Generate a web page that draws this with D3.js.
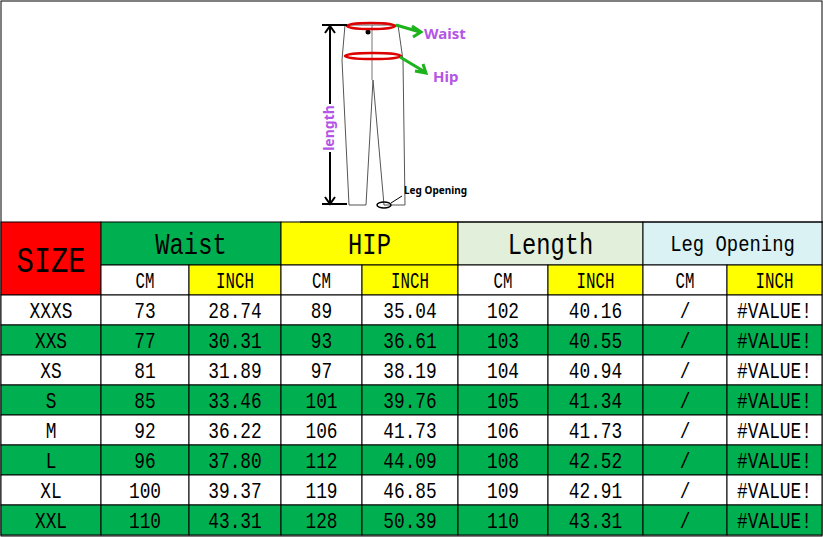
<!DOCTYPE html><html><head><meta charset="utf-8">
<script src="https://cdn.jsdelivr.net/npm/d3@7"></script>
<style>body{margin:0;background:#fff}svg{display:block}</style></head><body>
<svg id="c" width="823" height="537"></svg>
<script>
const sizes=["XXXS","XXS","XS","S","M","L","XL","XXL"];
const waistCm=[73,77,81,85,92,96,100,110];
const waistIn=["28.74","30.31","31.89","33.46","36.22","37.80","39.37","43.31"];
const hipCm=[89,93,97,101,106,112,119,128];
const hipIn=["35.04","36.61","38.19","39.76","41.73","44.09","46.85","50.39"];
const lenCm=[102,103,104,105,106,108,109,110];
const lenIn=["40.16","40.55","40.94","41.34","41.73","42.52","42.91","43.31"];
const legCm=sizes.map(()=>"/");
const legIn=sizes.map(()=>"#VALUE!");
const groups=["Waist","HIP","Length","Leg Opening"];
const groupFill=["#00B050","#FFFF00","#E2EFDA","#DAF2F4"];

const svg=d3.select("#c");
const colEdges=[1,101,189,281,362,458,548,643,727,822];
const x=i=>colEdges[i];
const rowY=d3.scaleLinear().domain([0,8]).range([295,535]);
const F="'Liberation Mono','DejaVu Sans Mono',monospace";
svg.append("rect").attr("x",1).attr("y",1).attr("width",821).attr("height",535).attr("fill","#fff").attr("stroke","#000");

function cell(x0,x1,y0,y1,fill,text,size,sx){
  svg.append("rect").attr("x",x0).attr("y",y0).attr("width",x1-x0).attr("height",y1-y0).attr("fill",fill).attr("stroke","#000").attr("stroke-width",1);
  const cx=(x0+x1)/2, cy=(y0+y1)/2;
  svg.append("text").attr("transform",`translate(${cx},${cy}) scale(${sx||0.85},1.05)`).attr("text-anchor","middle").attr("dy","0.36em")
    .attr("font-family",F).attr("font-size",size).attr("fill","#000").text(text);
}
// header
cell(x(0),x(1),222,295,"#FF0000","SIZE",36,0.8);
groups.forEach((g,i)=>{
  cell(x(1+2*i),x(3+2*i),222,265,groupFill[i],g,i===3?21:28,i===3?0.9:0.85);
  cell(x(1+2*i),x(2+2*i),265,295,"#fff","CM",21,0.75);
  cell(x(2+2*i),x(3+2*i),265,295,"#FFFF00","INCH",21,0.75);
});
const cols=[sizes,waistCm,waistIn,hipCm,hipIn,lenCm,lenIn,legCm,legIn];
sizes.forEach((s,r)=>{
  const fill=r%2?"#00B050":"#fff";
  cols.forEach((c,ci)=>cell(x(ci),x(ci+1),rowY(r),rowY(r+1),fill,c[r],21,ci===8?0.85:0.85));
});

// illustration
const g=svg.append("g");
g.append("line").attr("x1",300).attr("x2",823).attr("y1",222).attr("y2",222).attr("stroke","#000");
g.append("path").attr("d","M345,25 L398,25 L403,60 L405,205 L384,205 L373,80 L366,205 L349,205 L342,60 Z").attr("fill","#fff").attr("stroke","#555").attr("stroke-width",1);
g.append("line").attr("x1",372).attr("x2",372).attr("y1",25).attr("y2",80).attr("stroke","#777");
g.append("circle").attr("cx",368).attr("cy",32).attr("r",2.5).attr("fill","#000");
g.append("ellipse").attr("cx",371).attr("cy",26).attr("rx",24).attr("ry",3).attr("fill","none").attr("stroke","#d00").attr("stroke-width",2.5);
g.append("ellipse").attr("cx",373).attr("cy",56).attr("rx",28).attr("ry",3).attr("fill","none").attr("stroke","#d00").attr("stroke-width",2.5);
g.append("ellipse").attr("cx",384).attr("cy",205).attr("rx",7).attr("ry",3).attr("fill","none").attr("stroke","#000").attr("stroke-width",1.5);
g.append("line").attr("x1",330).attr("x2",330).attr("y1",26).attr("y2",204).attr("stroke","#000").attr("stroke-width",2);
[[322,25,347,25],[322,204,347,204]].forEach(d=>g.append("line").attr("x1",d[0]).attr("y1",d[1]).attr("x2",d[2]).attr("y2",d[3]).attr("stroke","#000").attr("stroke-width",2));
g.append("path").attr("d","M325,33 L330,26 L335,33 M325,197 L330,204 L335,197").attr("fill","none").attr("stroke","#000").attr("stroke-width",2);
g.append("rect").attr("x",322).attr("y",104).attr("width",16).attr("height",48).attr("fill","#fff");
g.append("text").attr("transform","translate(334,128) rotate(-90)").attr("text-anchor","middle").attr("font-family","'Noto Sans',sans-serif").attr("font-weight","bold").attr("font-size",14).attr("fill","#B455E6").text("length");
g.append("path").attr("d","M396,25 L420,32 M412,26 L421,32 L413,37").attr("fill","none").attr("stroke","#1DB31D").attr("stroke-width",3);
g.append("path").attr("d","M400,57 L425,72 M415,71 L426,73 L423,64").attr("fill","none").attr("stroke","#1DB31D").attr("stroke-width",3);
g.append("text").attr("x",424).attr("y",39).attr("font-family","'Noto Sans',sans-serif").attr("font-weight","bold").attr("font-size",15).attr("fill","#B455E6").text("Waist");
g.append("text").attr("x",433).attr("y",82).attr("font-family","'Noto Sans',sans-serif").attr("font-weight","bold").attr("font-size",15).attr("fill","#B455E6").text("Hip");
g.append("path").attr("d","M391,203 L402,196").attr("stroke","#000").attr("stroke-width",1);
g.append("text").attr("x",404).attr("y",194).attr("font-family","'Noto Sans',sans-serif").attr("font-weight","bold").attr("font-size",10).attr("fill","#000").text("Leg Opening");
</script></body></html>
